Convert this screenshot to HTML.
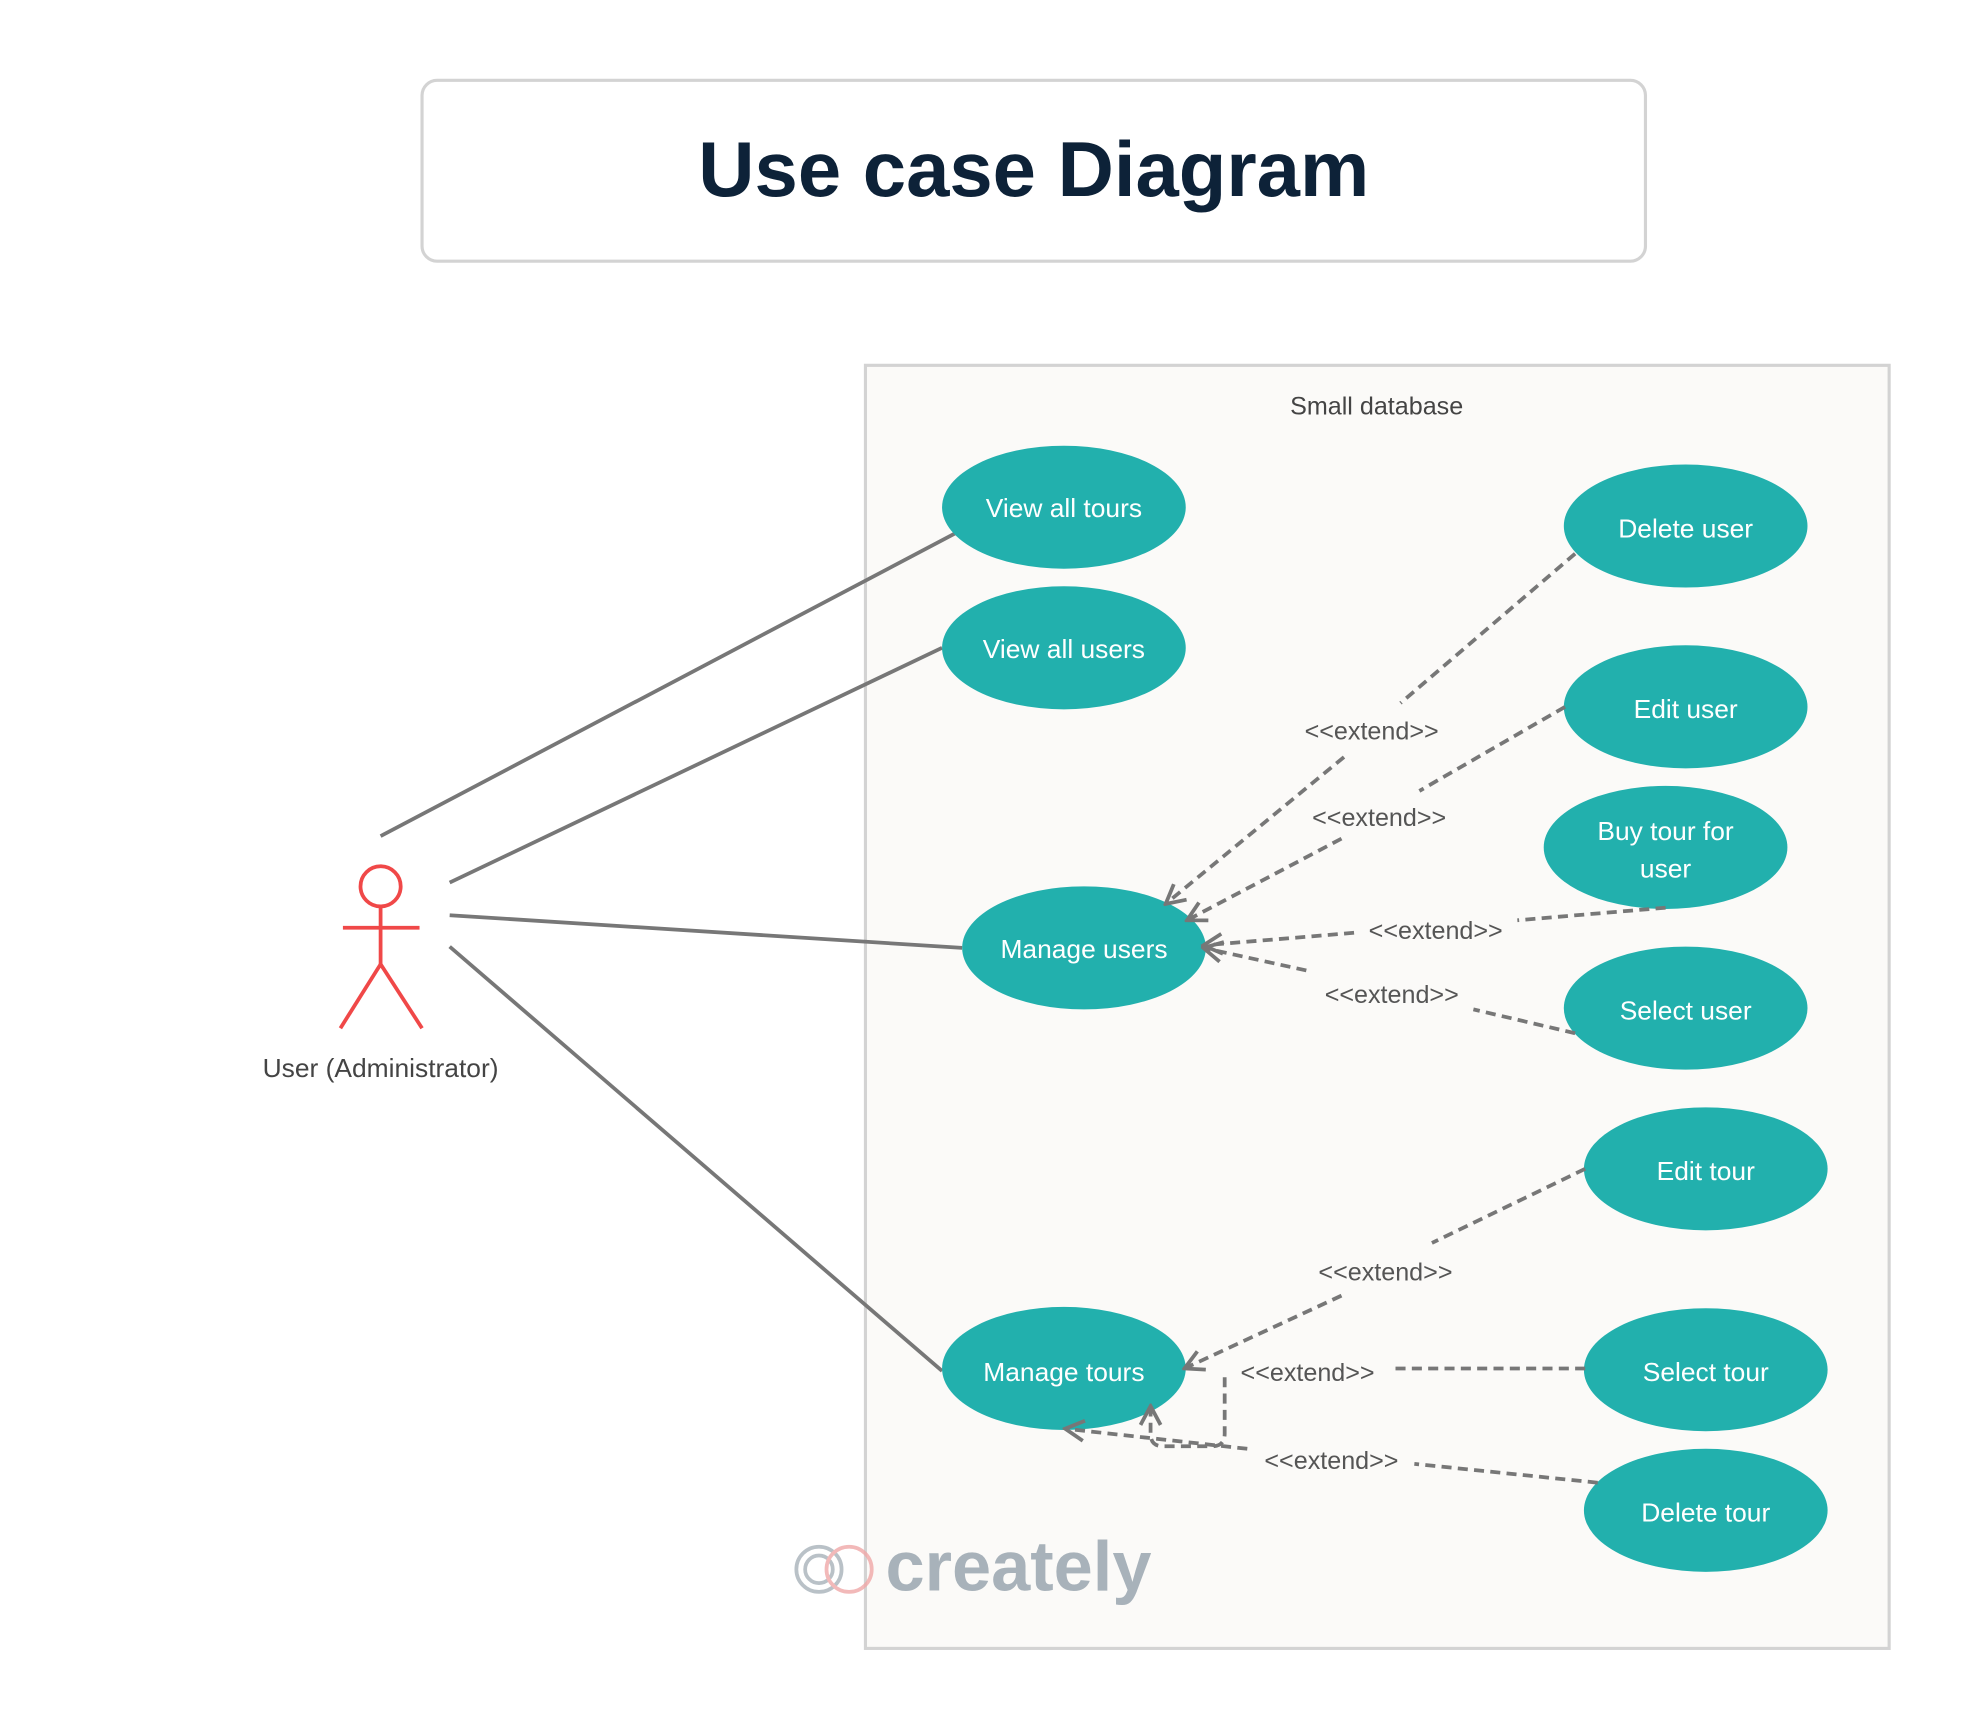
<!DOCTYPE html>
<html><head><meta charset="utf-8"><style>
html,body{margin:0;padding:0;background:#fff;}
svg{display:block;}
text{font-family:"Liberation Sans",sans-serif;}
</style></head><body>
<svg width="1962" height="1725" viewBox="0 0 1562 1374" preserveAspectRatio="none" xmlns="http://www.w3.org/2000/svg">
<defs>
<marker id="a" viewBox="0 0 20 20" refX="18" refY="10" markerWidth="20" markerHeight="20" markerUnits="userSpaceOnUse" orient="auto">
<path d="M3 2 L18 10 L3 18" fill="none" stroke="#777" stroke-width="3" stroke-dasharray="none"/>
</marker>
</defs>
<rect x="336" y="64" width="974" height="144" rx="12" fill="#fff" stroke="#d3d3d3" stroke-width="2.5"/>
<text x="823" y="156" text-anchor="middle" font-size="62" font-weight="bold" fill="#0d2238">Use case Diagram</text>
<rect x="689" y="291" width="815" height="1022" fill="#fbfaf8" stroke="#d3d3d3" stroke-width="2.5"/>
<text x="1096" y="330" text-anchor="middle" font-size="20" fill="#444">Small database</text>
<g stroke="#777" stroke-width="3" fill="none">
<line x1="303" y1="666" x2="762" y2="424"/>
<line x1="358" y1="703" x2="750" y2="516"/>
<line x1="358" y1="729" x2="766" y2="755"/>
<line x1="358" y1="754" x2="750" y2="1092"/>
</g>
<g fill="#22b0ad">
<ellipse cx="847" cy="404" rx="97" ry="49"/>
<ellipse cx="847" cy="516" rx="97" ry="49"/>
<ellipse cx="863" cy="755" rx="97" ry="49"/>
<ellipse cx="847" cy="1090" rx="97" ry="49"/>
<ellipse cx="1342" cy="419" rx="97" ry="49"/>
<ellipse cx="1342" cy="563" rx="97" ry="49"/>
<ellipse cx="1326" cy="675" rx="97" ry="49"/>
<ellipse cx="1342" cy="803" rx="97" ry="49"/>
<ellipse cx="1358" cy="931" rx="97" ry="49"/>
<ellipse cx="1358" cy="1091" rx="97" ry="49"/>
<ellipse cx="1358" cy="1203" rx="97" ry="49"/>
</g>
<g stroke="#777" stroke-width="3" fill="none" stroke-dasharray="8 5">
<line x1="1254" y1="441" x2="1115" y2="560"/>
<line x1="1070" y1="603" x2="928" y2="720" marker-end="url(#a)"/>
<line x1="1246" y1="563" x2="1130" y2="630"/>
<line x1="1068" y1="668" x2="945" y2="733" marker-end="url(#a)"/>
<line x1="1326" y1="723" x2="1208" y2="733"/>
<line x1="1078" y1="743" x2="958" y2="753" marker-end="url(#a)"/>
<line x1="1254" y1="823" x2="1173" y2="804"/>
<line x1="1040" y1="773" x2="958" y2="755" marker-end="url(#a)"/>
<line x1="1262" y1="931" x2="1140" y2="990"/>
<line x1="1068" y1="1032" x2="943" y2="1090" marker-end="url(#a)"/>
<line x1="1262" y1="1090" x2="1108" y2="1090"/>
<path d="M975 1097 L975 1142 Q975 1152 965 1152 L926 1152 Q916 1152 916 1142 L916 1120" marker-end="url(#a)"/>
<line x1="1272" y1="1181" x2="1126" y2="1166"/>
<line x1="993" y1="1154" x2="848" y2="1138" marker-end="url(#a)"/>
</g>
<g fill="#fff" font-size="21" text-anchor="middle">
<text x="847" y="412">View all tours</text>
<text x="847" y="524">View all users</text>
<text x="863" y="763">Manage users</text>
<text x="847" y="1100">Manage tours</text>
<text x="1342" y="428">Delete user</text>
<text x="1342" y="572">Edit user</text>
<text x="1326" y="669">Buy tour for</text>
<text x="1326" y="699">user</text>
<text x="1342" y="812">Select user</text>
<text x="1358" y="940">Edit tour</text>
<text x="1358" y="1100">Select tour</text>
<text x="1358" y="1212">Delete tour</text>
</g>
<g fill="#555" font-size="20" text-anchor="middle">
<text x="1092" y="589">&lt;&lt;extend&gt;&gt;</text>
<text x="1098" y="658">&lt;&lt;extend&gt;&gt;</text>
<text x="1143" y="748">&lt;&lt;extend&gt;&gt;</text>
<text x="1108" y="799">&lt;&lt;extend&gt;&gt;</text>
<text x="1103" y="1020">&lt;&lt;extend&gt;&gt;</text>
<text x="1041" y="1100">&lt;&lt;extend&gt;&gt;</text>
<text x="1060" y="1170">&lt;&lt;extend&gt;&gt;</text>
</g>
<g stroke="#f04848" stroke-width="3" fill="none">
<circle cx="303" cy="706" r="16"/>
<line x1="303" y1="722" x2="303" y2="768"/>
<line x1="273" y1="739" x2="334" y2="739"/>
<line x1="303" y1="768" x2="271" y2="819"/>
<line x1="303" y1="768" x2="336" y2="819"/>
</g>
<text x="303" y="858" text-anchor="middle" font-size="21" fill="#444">User (Administrator)</text>
<g fill="none" stroke-width="3" opacity="0.8">
<circle cx="652" cy="1250" r="18" stroke="#a8b2ba"/>
<circle cx="652" cy="1250" r="11" stroke="#a8b2ba"/>
<circle cx="676" cy="1250" r="18" stroke="#f0a8a8"/>
</g>
<text x="705" y="1267" font-size="56" font-weight="bold" fill="#a8b2ba">creately</text>
</svg>
</body></html>
